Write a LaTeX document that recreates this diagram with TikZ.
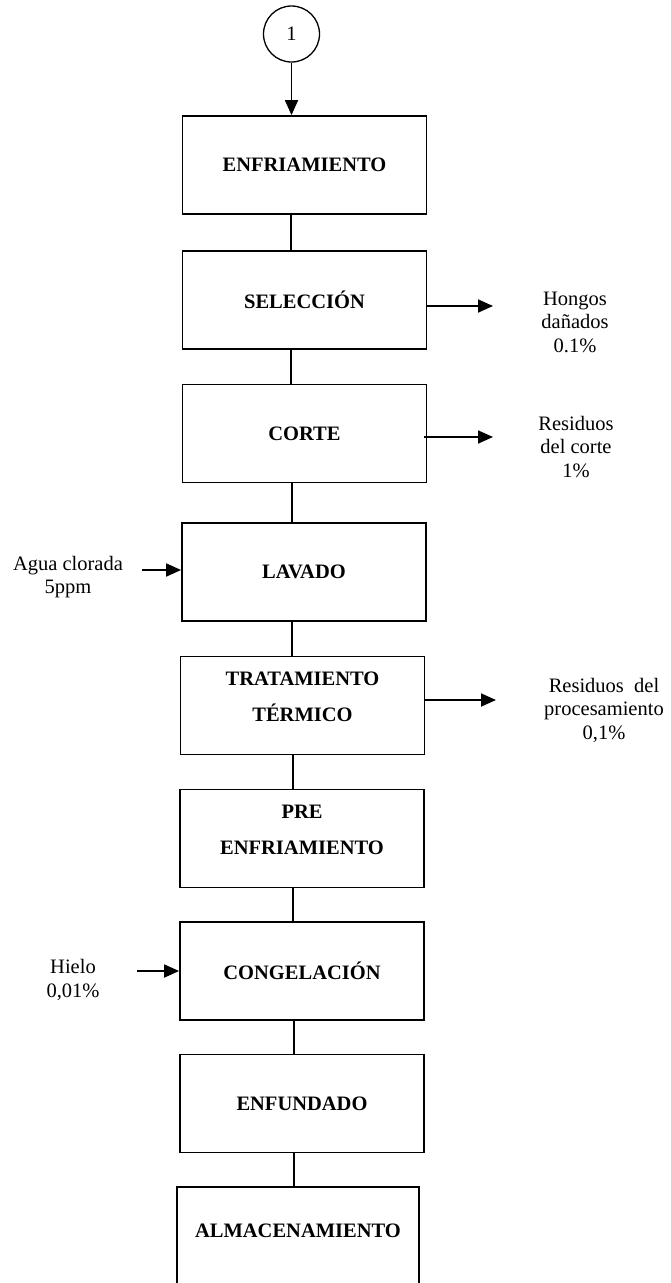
\documentclass[tikz,border=0pt]{standalone}
\usepackage{fontspec}
\setmainfont{Liberation Serif}
\usetikzlibrary{arrows.meta}
\begin{document}
\begin{tikzpicture}[x=1pt,y=-1pt,
  proc/.style={draw, line width=1.8pt, minimum width=244pt, minimum height=98pt,
    inner sep=0pt, align=center, font=\fontsize{20.5}{36}\selectfont\bfseries},
  proctext/.style={inner sep=0pt, align=center, font=\fontsize{20.5}{36}\selectfont\bfseries},
  side/.style={inner sep=0pt, align=center, font=\fontsize{20.5}{23.5}\selectfont},
  conn/.style={line width=1.8pt},
  arr/.style={line width=1.8pt, -{Triangle[length=15pt,width=13pt]}}
]
\useasboundingbox (0,0) rectangle (670,1283);

% connector circle
\node[draw, circle, line width=1.3pt, minimum size=56pt, inner sep=0pt,
  font=\fontsize{20.5}{24}\selectfont] (c1) at (291.5,34) {1};

% process steps
\node[proc] (b1) at (304.5,165)   {ENFRIAMIENTO};
\node[proc] (b2) at (304.5,300)   {SELECCIÓN};
\node[proc] (b3) at (304.5,433.5) {CORTE};
\node[proc] (b4) at (304,572)     {LAVADO};
\node[proc] (b5) at (302.5,705.5) {};
\node[proctext] (t5) at (302.5,697) {TRATAMIENTO\\TÉRMICO};
\node[proc] (b6) at (302,838.5)   {};
\node[proctext] (t6) at (302,830) {PRE\\ENFRIAMIENTO};
\node[proc] (b7) at (302,971)     {CONGELACIÓN};
\node[proc] (b8) at (302,1103.5)  {ENFUNDADO};
\node[proc, minimum width=242pt, minimum height=100pt] (b9) at (298,1237) {};
\node[proctext] (t9) at (298,1231) {ALMACENAMIENTO};

% main flow
\draw[arr] (c1.south) -- (c1.south |- b1.north);
\draw[conn] ([xshift=-13.5]b1.south) -- ([xshift=-13.5]b1.south |- b2.north);
\draw[conn] ([xshift=-13.5]b2.south) -- ([xshift=-13.5]b2.south |- b3.north);
\draw[conn] ([xshift=-12.5]b3.south) -- ([xshift=-12.5]b3.south |- b4.north);
\draw[conn] ([xshift=-12]b4.south)   -- ([xshift=-12]b4.south |- b5.north);
\draw[conn] ([xshift=-9.5]b5.south)  -- ([xshift=-9.5]b5.south |- b6.north);
\draw[conn] ([xshift=-9]b6.south)    -- ([xshift=-9]b6.south |- b7.north);
\draw[conn] ([xshift=-8]b7.south)    -- ([xshift=-8]b7.south |- b8.north);
\draw[conn] ([xshift=-8]b8.south)    -- ([xshift=-8]b8.south |- b9.north);

% outputs
\coordinate (o2) at (493,306);
\coordinate (o3) at (493,437);
\coordinate (o5) at (496,700);
\draw[arr] (b2.east |- o2) -- (o2);
\draw[arr] ([xshift=-3]b3.east |- o3) -- (o3);
\draw[arr] (b5.east |- o5) -- (o5);
\node[side] (s2) at (575,322) {Hongos\\dañados\\0.1\%};
\node[side] (s3) at (576,447) {Residuos\\del corte\\1\%};
\node[side] (s5) at (604,710) {Residuos\ \ del\\procesamiento\\0,1\%};

% inputs
\coordinate (i4) at (142,570);
\coordinate (i7) at (137,971);
\draw[arr] (i4) -- (i4 -| b4.west);
\draw[arr] (i7) -- (i7 -| b7.west);
\node[side] (s4) at (68,577) {Agua clorada\\5ppm};
\node[side] (s7) at (73,980) {Hielo\\0,01\%};
\end{tikzpicture}
\end{document}
